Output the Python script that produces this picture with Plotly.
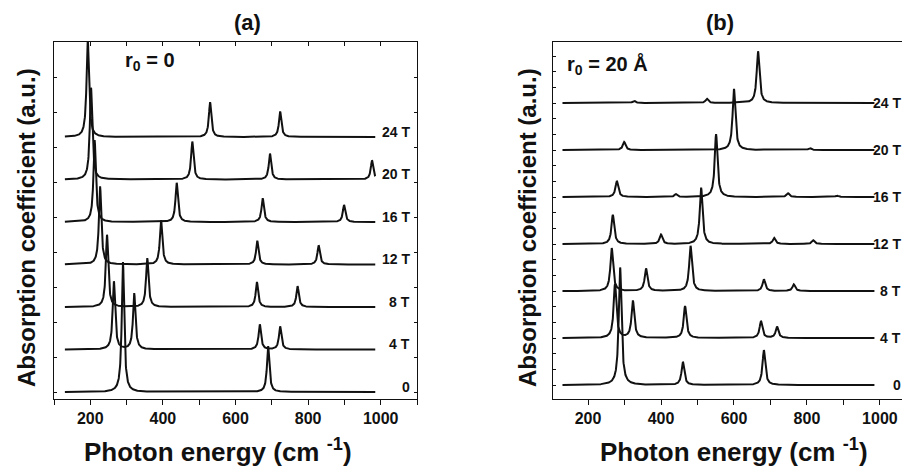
import numpy as np
import plotly.graph_objects as go

# ---------------- data ----------------
FIELD_LABELS = ["0", "4 T", "8 T", "12 T", "16 T", "20 T", "24 T"]

# Panel (a): r0 = 0 -- peak centres (cm^-1) and peak heights (a.u., one unit = trace offset)
PEAK_POS_A = [
    [290, 690],
    [265, 321, 667, 723],
    [246, 357, 659, 771],
    [227, 395, 660, 829],
    [212, 438, 675, 899],
    [202, 481, 695, 976],
    [193, 530, 723],
]
PEAK_HT_A = [
    [3.06, 1.08],
    [1.60, 1.32, 0.59, 0.54],
    [1.70, 1.15, 0.59, 0.49],
    [1.84, 1.04, 0.56, 0.45],
    [1.93, 0.92, 0.56, 0.40],
    [2.16, 0.89, 0.61, 0.45],
    [2.30, 0.82, 0.60],
]

# Panel (b): r0 = 20 A
PEAK_POS_B = [
    [288, 460, 682],
    [274, 323, 466, 674, 718],
    [265, 359, 481, 682, 764],
    [268, 400, 510, 710, 817],
    [279, 441, 551, 748, 882],
    [299, 600, 808],
    [326, 526, 666],
]
PEAK_HT_B = [
    [2.50, 0.49, 0.74],
    [1.15, 0.79, 0.68, 0.36, 0.24],
    [0.91, 0.48, 0.96, 0.25, 0.14],
    [0.62, 0.20, 1.20, 0.13, 0.08],
    [0.34, 0.06, 1.34, 0.08, 0.03],
    [0.17, 1.30, 0.04],
    [0.05, 0.09, 1.10],
]

LINEWIDTH_A = 4.0   # Lorentzian half width (cm^-1)
LINEWIDTH_B = 4.5
E_START, E_END = 130, 985

X_TICK_VALS = [200, 400, 600, 800, 1000]
X_TICK_TEXT = ["200", "400", "600", "800", "1000"]
X_MINOR_VALS = [100, 300, 500, 700, 900, 1100]

# ---------------- build ----------------
PAGE_OFF = 8            # browser body margin
W, H = 910 - PAGE_OFF, 472 - PAGE_OFF
PLOT_TOP, PLOT_BOT = 42, 399       # in window pixels
PH = PLOT_BOT - PLOT_TOP


def px(xp):
    return (xp - PAGE_OFF) / W


def py(yp):
    return (PLOT_BOT - yp) / PH


energy = np.arange(E_START, E_END + 0.25, 0.5)


def spectrum(offset, centres, heights, gamma):
    y = np.full_like(energy, float(offset))
    for c, h in zip(centres, heights):
        y += h * gamma ** 2 / ((energy - c) ** 2 + gamma ** 2)
    return y


FONT = "Liberation Sans, Arial, Helvetica, sans-serif"
INK = "#111111"

fig = go.Figure()
for k, (c, h) in enumerate(zip(PEAK_POS_A, PEAK_HT_A)):
    fig.add_trace(go.Scatter(x=energy, y=spectrum(k, c, h, LINEWIDTH_A), mode="lines",
                             line=dict(color=INK, width=2), xaxis="x", yaxis="y",
                             showlegend=False, hoverinfo="skip"))
for k, (c, h) in enumerate(zip(PEAK_POS_B, PEAK_HT_B)):
    fig.add_trace(go.Scatter(x=energy, y=spectrum(k, c, h, LINEWIDTH_B), mode="lines",
                             line=dict(color=INK, width=2), xaxis="x2", yaxis="y2",
                             showlegend=False, hoverinfo="skip"))
# dummy trace for top tick axis of panel (a)
fig.add_trace(go.Scatter(x=[None], y=[None], xaxis="x3", yaxis="y", showlegend=False))

unit_a = 42.5
unit_b = 47.0
yr_a = [-(PLOT_BOT - 392) / unit_a, -(PLOT_BOT - 392) / unit_a + PH / unit_a]
yr_b = [-(PLOT_BOT - 385) / unit_b, -(PLOT_BOT - 385) / unit_b + PH / unit_b]

tickfont = dict(family=FONT, size=16, color=INK, weight="bold")
xcommon = dict(tickvals=X_TICK_VALS, ticktext=X_TICK_TEXT, ticks="outside", ticklen=5,
               tickwidth=1.2, tickcolor=INK, showline=True, linecolor=INK, linewidth=1.2,
               mirror=True, showgrid=False, zeroline=False, tickfont=tickfont,
               minor=dict(tickvals=X_MINOR_VALS, ticks="outside", ticklen=5,
                          tickwidth=1.2, tickcolor=INK, showgrid=False))

fig.update_layout(
    width=W, height=H,
    margin=dict(l=0, r=0, t=PLOT_TOP - PAGE_OFF, b=(472 - PLOT_BOT)),
    paper_bgcolor="white", plot_bgcolor="white",
    xaxis=dict(domain=[px(54), px(417)], range=[100, 1100], anchor="y", **xcommon),
    xaxis2=dict(domain=[px(553), px(908)], range=[104, 1077], anchor="y2", **xcommon),
    xaxis3=dict(overlaying="x", side="top", anchor="y", range=[100, 1100],
                tickvals=X_TICK_VALS + X_MINOR_VALS, ticks="inside", ticklen=4,
                tickwidth=1.2, tickcolor=INK, showticklabels=False, showline=False,
                showgrid=False, zeroline=False),
    yaxis=dict(domain=[0, 1], range=yr_a, anchor="x", tick0=0, dtick=35 / unit_a,
               ticks="inside", ticklen=3, tickwidth=1.2, tickcolor=INK,
               showticklabels=False, showline=True, linecolor=INK, linewidth=1.2,
               mirror="ticks", showgrid=False, zeroline=False),
    yaxis2=dict(domain=[0, 1], range=yr_b, anchor="x2", tick0=0, dtick=1 / 3,
                ticks="inside", ticklen=3, tickwidth=1.2, tickcolor=INK,
                showticklabels=False, showline=True, linecolor=INK, linewidth=1.2,
                mirror=True, showgrid=False, zeroline=False),
)

ann = []


def txt(text, x, y, size, xanchor="center", yanchor="middle", angle=0, xref="paper", yref="paper"):
    ann.append(dict(text=text, x=x, y=y, xref=xref, yref=yref, xanchor=xanchor,
                    yanchor=yanchor, showarrow=False, textangle=angle,
                    font=dict(family=FONT, size=size, color=INK, weight="bold")))


txt("(a)", px(248), py(23), 22)
txt("(b)", px(720), py(23), 22)
txt("Absorption coefficient (a.u.)", px(27), py(228), 24, angle=-90)
txt("Absorption coefficient (a.u.)", px(528), py(228), 24, angle=-90)
txt("Photon energy (cm <sup>-1</sup>)", px(218), py(450), 26)
txt("Photon energy (cm <sup>-1</sup>)", px(734), py(450), 26)
txt("r<sub>0</sub> = 0", px(123), py(61), 20, xanchor="left")
txt("r<sub>0</sub> = 20 Å", px(565), py(65), 20, xanchor="left")

for k, lab in enumerate(FIELD_LABELS):
    txt(lab, px(412), k + 0.12, 14, xanchor="right", yref="y")
    txt(lab, px(903), k, 14, xanchor="right", yref="y2")

fig.update_layout(annotations=ann)
fig.write_html("out.html")
